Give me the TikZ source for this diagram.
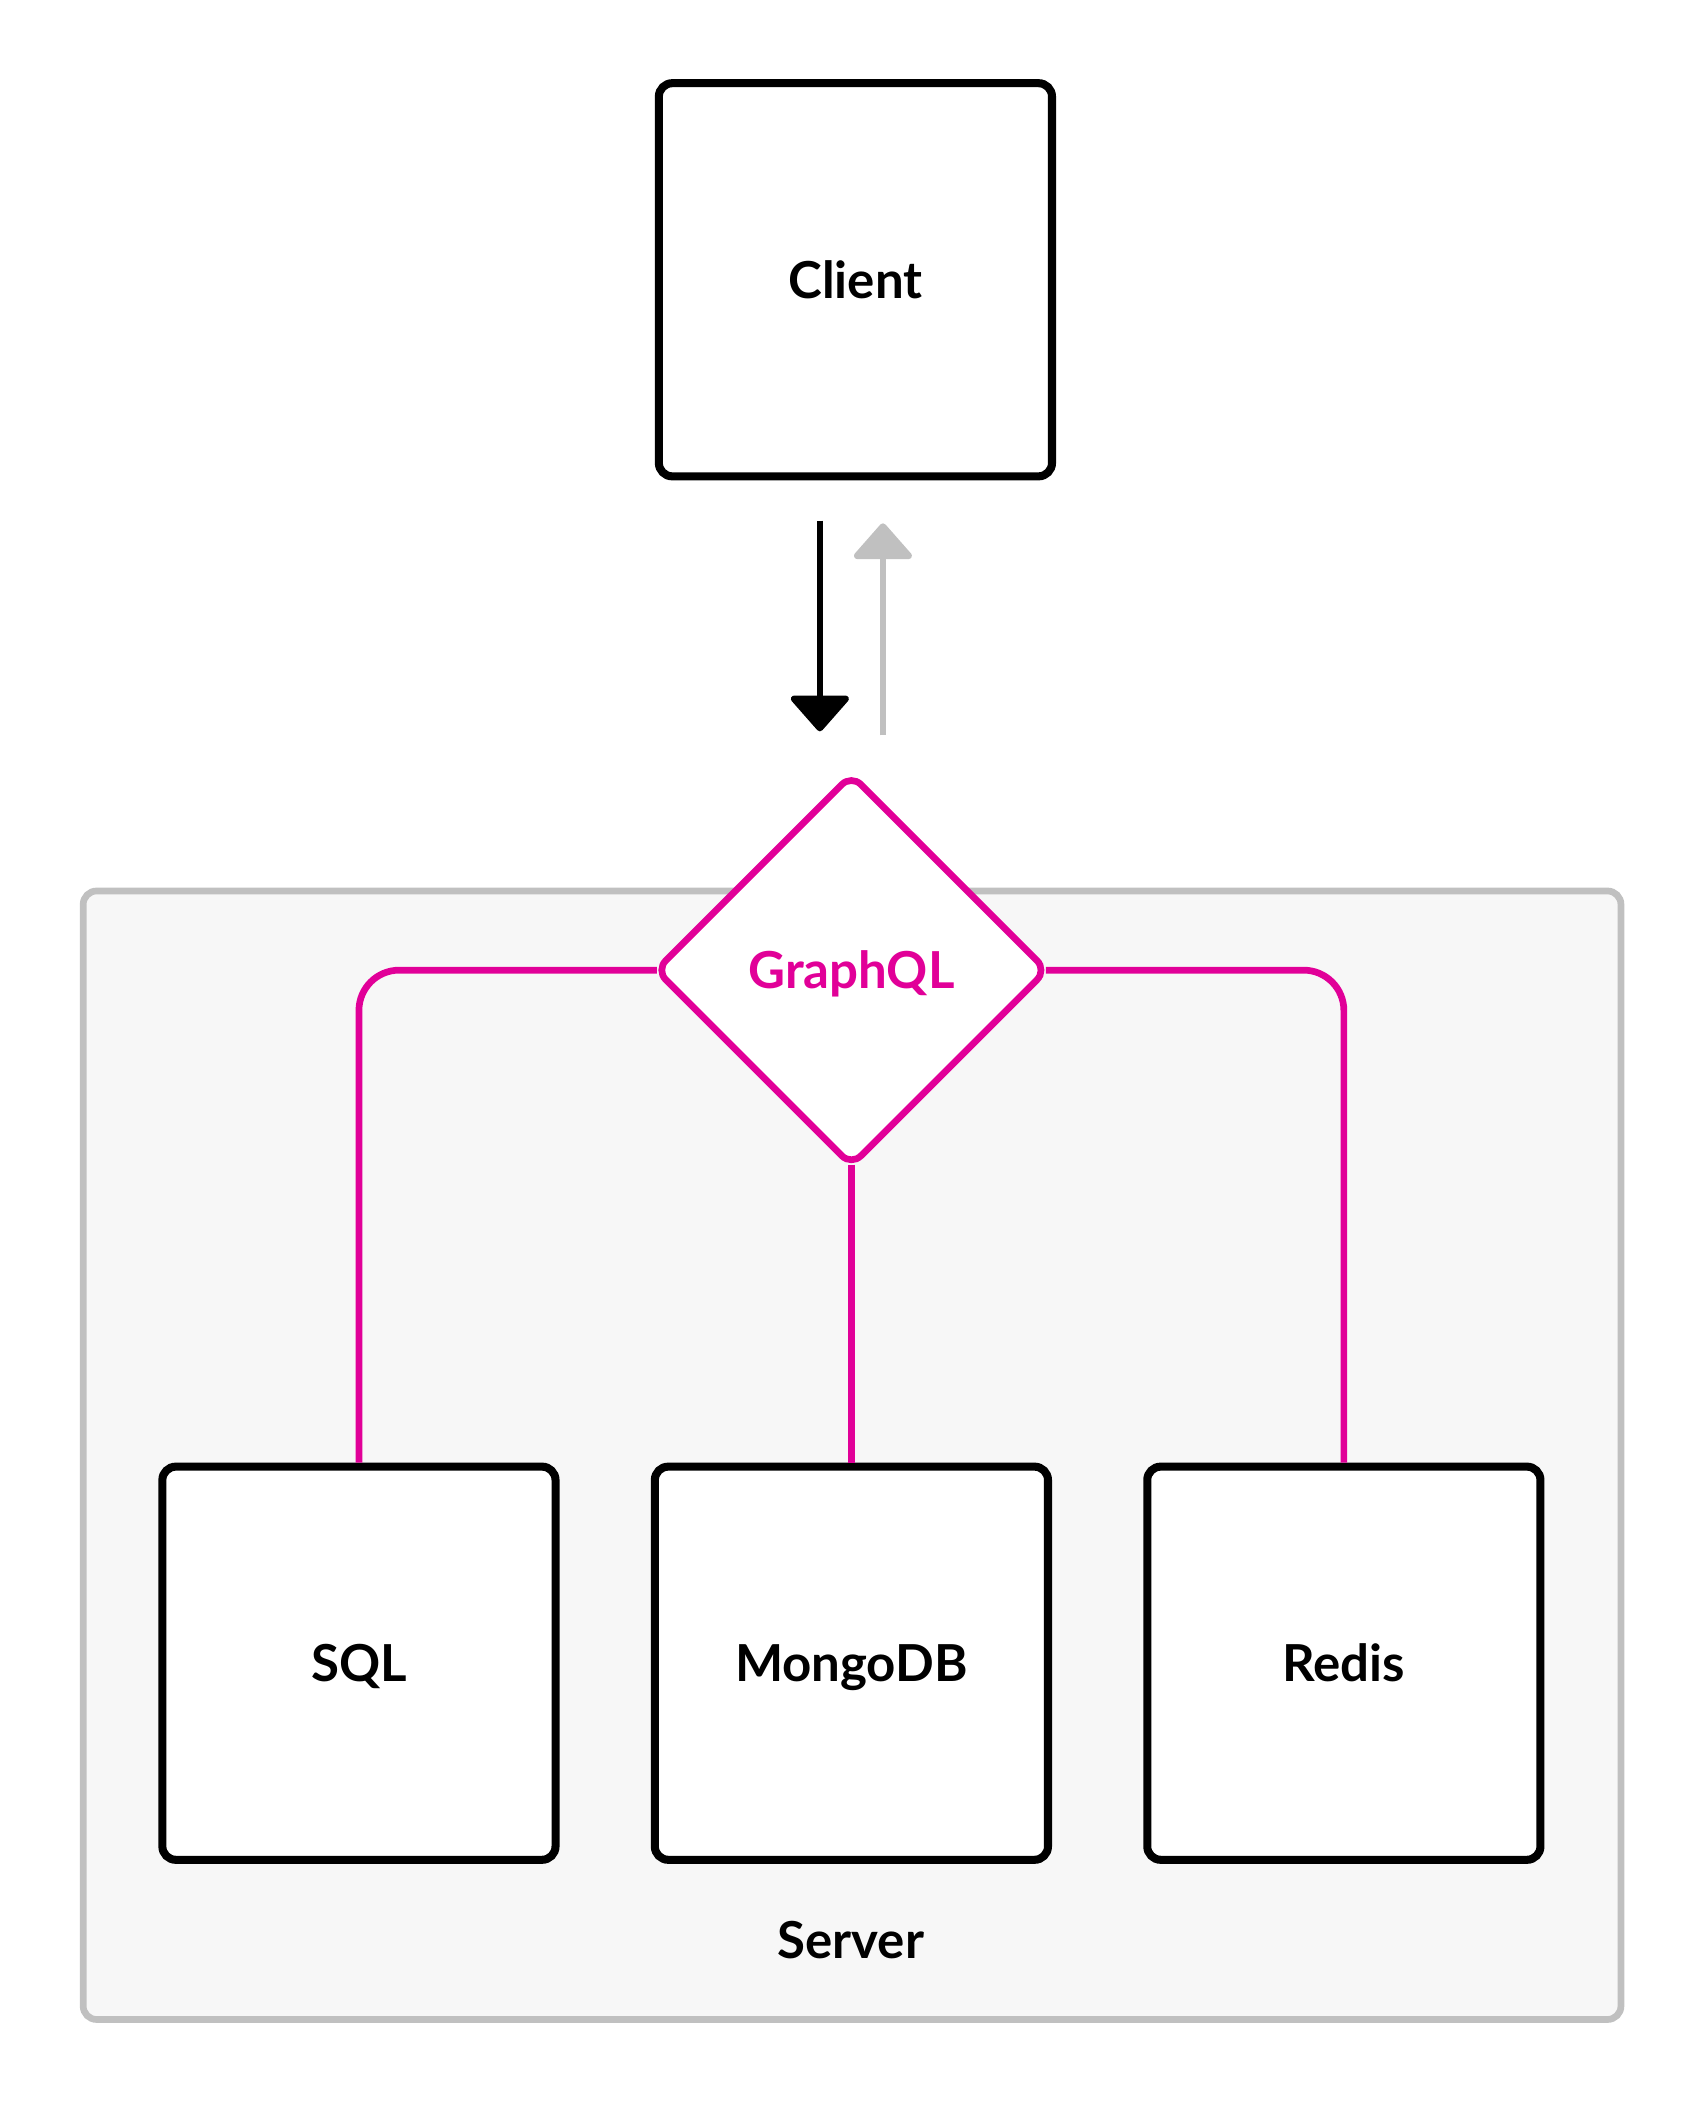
\documentclass[tikz,border=0pt]{standalone}
\usepackage{fontspec}
\setmainfont{Lato}
\usetikzlibrary{shapes.geometric,arrows.meta}
\definecolor{gqlpink}{HTML}{E10098}
\definecolor{lgray}{HTML}{C0C0C0}
\definecolor{bgfill}{HTML}{F7F7F7}
\tikzset{
  lbl/.style={font=\fontsize{19}{22}\selectfont\bfseries, text height=13.7pt, text depth=0pt, inner sep=0pt},
  dbox/.style={draw=black, line width=3pt, fill=white, rounded corners=5pt,
    minimum width=146.5pt, minimum height=146.5pt, lbl},
  link/.style={draw=gqlpink, line width=2.5pt, rounded corners=15pt},
  reqarrow/.style={draw=black, line width=2.5pt, -{Triangle[width=24pt,length=14pt,round]}},
  resarrow/.style={draw=lgray, line width=2.5pt, -{Triangle[width=24pt,length=14pt,round]}}
}
\begin{document}
\begin{tikzpicture}[x=0.5pt,y=-0.5pt]
\useasboundingbox (0,0) rectangle (1270,1568);
\node[draw=lgray, line width=2.5pt, fill=bgfill, rounded corners=5pt,
  minimum width=573pt, minimum height=420.5pt, inner sep=0pt] (server) at (635,1084.5) {};
\node[lbl] (serverlabel) at (634,1446) {Server};
\node[dbox] (client) at (637.5,208.5) {Client};
\node[dbox] (sql) at (267.5,1239.5) {SQL};
\node[dbox] (mongo) at (634.5,1239.5) {MongoDB};
\node[dbox] (redis) at (1001.5,1239.5) {Redis};
\node[shape=diamond, draw=gqlpink, line width=2.5pt, fill=white, rounded corners=5pt,
  minimum width=146.5pt, minimum height=146.5pt, inner sep=0pt,
  text=gqlpink, lbl] (gql) at (634.5,723) {GraphQL};
\draw[link] ([xshift=2pt]gql.west) -| (sql.north);
\draw[link] ([xshift=-2pt]gql.east) -| (redis.north);
\draw[link] ([yshift=2pt]gql.south) -- (gql.south |- mongo.north);
\coordinate (reqS) at (611,388);
\coordinate (reqE) at (611,545);
\coordinate (resS) at (658,548);
\coordinate (resE) at (658,390);
\draw[reqarrow] (reqS) -- (reqE);
\draw[resarrow] (resS) -- (resE);
\end{tikzpicture}
\end{document}
